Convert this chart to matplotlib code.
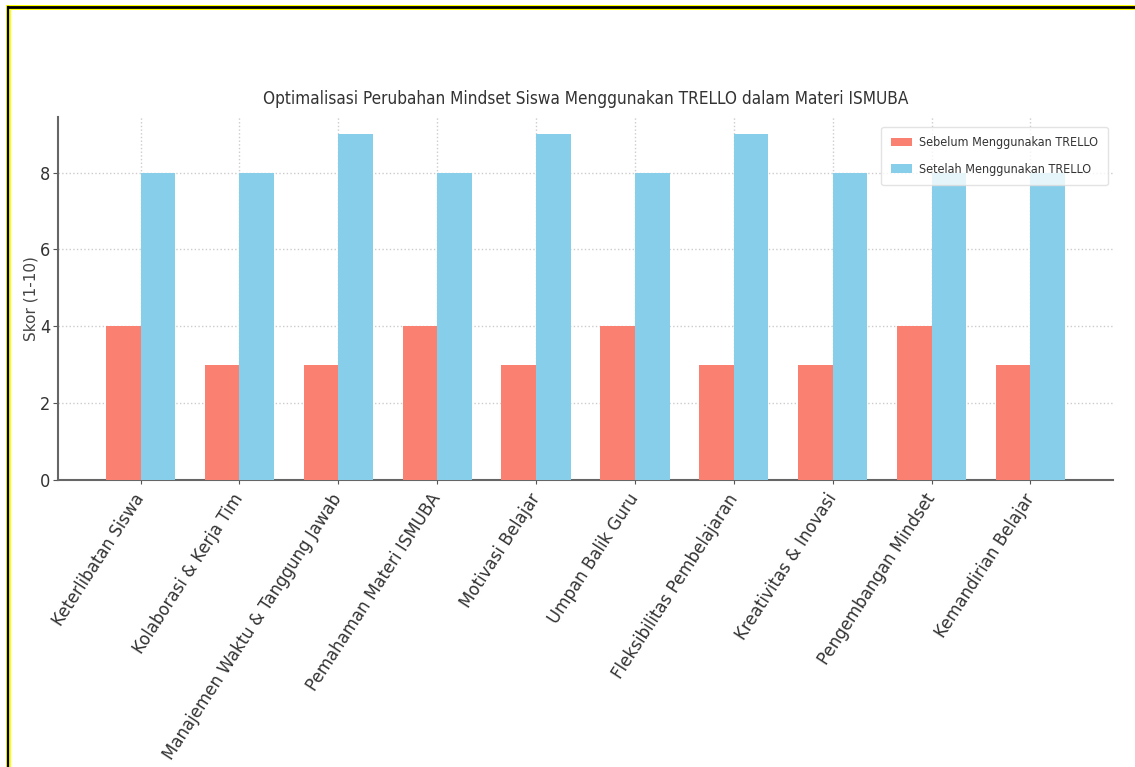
import numpy as np
import matplotlib
matplotlib.use('Agg')
import matplotlib.pyplot as plt
from matplotlib.lines import Line2D

# Data
categories = ['Keterlibatan Siswa', 'Kolaborasi & Kerja Tim', 'Manajemen Waktu & Tanggung Jawab',
              'Pemahaman Materi ISMUBA', 'Motivasi Belajar', 'Umpan Balik Guru',
              'Fleksibilitas Pembelajaran', 'Kreativitas & Inovasi', 'Pengembangan Mindset',
              'Kemandirian Belajar']
sebelum = [4, 3, 3, 4, 3, 4, 3, 3, 4, 3]
setelah = [8, 8, 9, 8, 9, 8, 9, 8, 8, 8]

plt.rcParams['font.family'] = ['DejaVu Sans']
plt.rcParams['font.stretch'] = 'condensed'
txt = '#333333'

fig = plt.figure(figsize=(11.35, 7.67), dpi=100)
ax = fig.add_axes([0.0511, 0.3742, 0.9295, 0.4733])

x = np.arange(len(categories))
w = 0.35
ax.bar(x - w/2, sebelum, w, color='salmon', label='Sebelum Menggunakan TRELLO', zorder=3)
ax.bar(x + w/2, setelah, w, color='skyblue', label='Setelah Menggunakan TRELLO', zorder=3)

ax.set_title('Optimalisasi Perubahan Mindset Siswa Menggunakan TRELLO dalam Materi ISMUBA',
             fontsize=12.3, color=txt, pad=9)
ax.set_ylabel('Skor (1-10)', fontsize=11, color='#444444', labelpad=1,
              fontstretch='normal', fontweight='medium')
ax.set_xticks(x)
ax.set_xticklabels(categories, rotation=57, ha='right', va='center', rotation_mode='anchor',
                   fontsize=12, color=txt, fontstretch='normal')
ax.tick_params(axis='y', labelsize=13, labelcolor=txt, color='#555555', pad=2)
ax.tick_params(axis='x', color='#555555', length=3, pad=8)
ax.set_yticks([0, 2, 4, 6, 8])

ax.grid(True, linestyle=':', color='#cccccc', linewidth=1, zorder=0)
for s in ['top', 'right']:
    ax.spines[s].set_visible(False)
for s in ['left', 'bottom']:
    ax.spines[s].set_color('#666666')
    ax.spines[s].set_linewidth(1.5)

leg = ax.legend(loc='upper right', fontsize=9, frameon=True, bbox_to_anchor=(0.995, 0.9725),
                borderaxespad=0, labelspacing=1.1, borderpad=0.75, handlelength=1.7,
                handletextpad=0.6)
leg.get_frame().set_edgecolor('#dddddd')
for t in leg.get_texts():
    t.set_color(txt)

# screenshot frame (top and left edges)
ytop = 1 - 6.5 / 767
xl = 7.5 / 1135
fig.add_artist(Line2D([xl, 1], [ytop, ytop], transform=fig.transFigure, color='yellow', lw=3.6))
fig.add_artist(Line2D([xl, xl], [0, ytop], transform=fig.transFigure, color='yellow', lw=3.6))
fig.add_artist(Line2D([xl, 1], [ytop, ytop], transform=fig.transFigure, color='black', lw=2.0))
fig.add_artist(Line2D([xl, xl], [0, ytop], transform=fig.transFigure, color='black', lw=1.6))

fig.savefig('out.png', dpi=100)
